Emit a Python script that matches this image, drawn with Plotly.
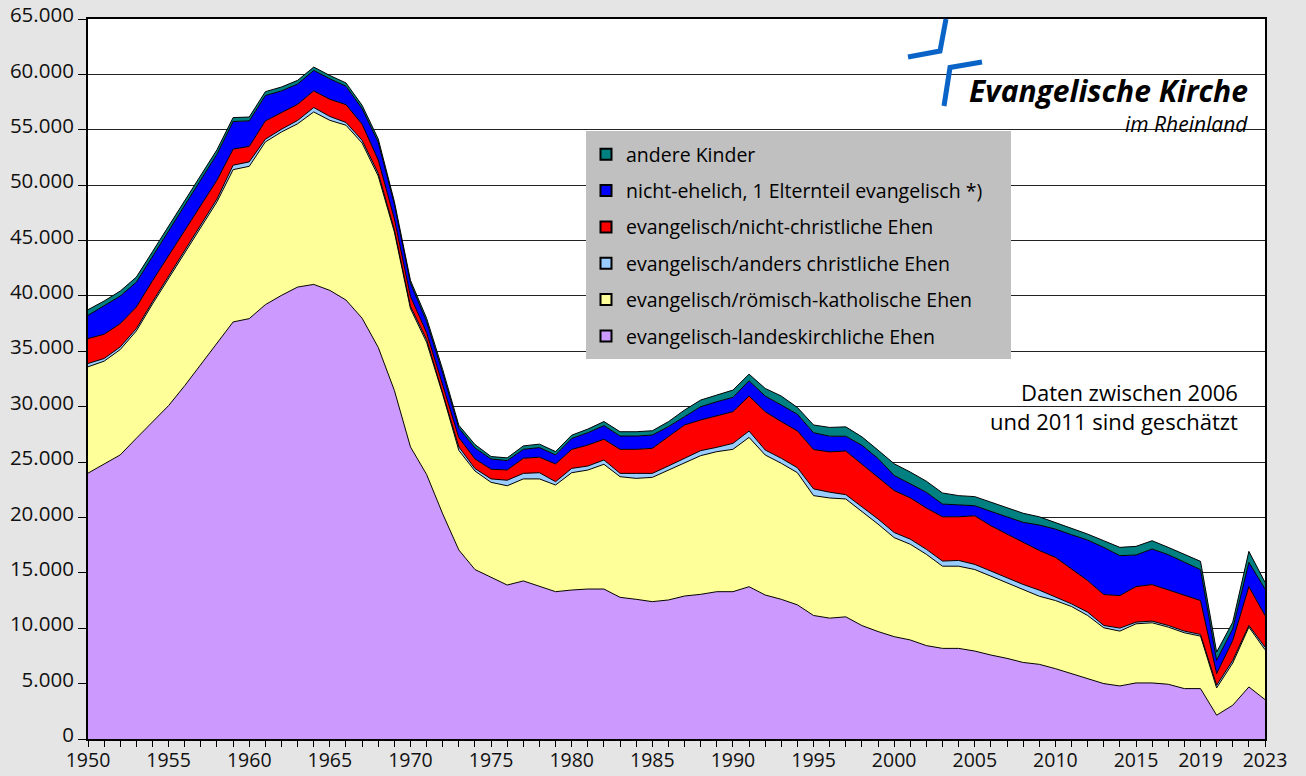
import plotly.graph_objects as go

years = list(range(1950, 2024))

# evangelisch-landeskirchliche Ehen
landeskirchlich = [
    24000, 24840, 25650, 27150, 28600, 30100, 31900, 33800, 35700, 37650,
    37950, 39210, 40050, 40800, 41040, 40500, 39630, 37990, 35355, 31480,
    26365, 23885, 20320, 17065, 15300, 14590, 13900, 14270, 13800, 13300,
    13450, 13540, 13540, 12790, 12610, 12400, 12550, 12910, 13060, 13300,
    13300, 13750, 13000, 12610, 12110, 11150, 10910, 11030, 10240, 9700,
    9240, 8940, 8430, 8180, 8180, 7940, 7580, 7280, 6910, 6740,
    6350, 5900, 5450, 5000, 4790, 5060, 5060, 4940, 4550, 4550,
    2150, 3050, 4700, 3560,
]
# evangelisch/römisch-katholische Ehen
roem_kath = [
    9600, 9270, 9510, 9690, 10670, 11480, 11990, 12450, 12800, 13750,
    13750, 14690, 14750, 14740, 15570, 15350, 15780, 15810, 15465, 14300,
    12485, 11935, 10790, 8990, 8895, 8580, 8960, 9210, 9680, 9630,
    10590, 10740, 11260, 10890, 10920, 11220, 11740, 12040, 12520, 12640,
    12850, 13480, 12640, 12280, 11930, 10820, 10850, 10640, 10300, 9700,
    8940, 8640, 8240, 7420, 7420, 7360, 7120, 6820, 6580, 6150,
    6150, 6060, 5700, 5040, 4950, 5340, 5430, 5160, 5040, 4740,
    2460, 3810, 5400, 4500,
]
# evangelisch/anders christliche Ehen
anders_christl = [
    300, 240, 240, 210, 200, 200, 200, 200, 250, 400,
    400, 250, 250, 300, 400, 350, 250, 250, 250, 200,
    200, 250, 220, 310, 220, 310, 500, 500, 560, 300,
    390, 360, 390, 300, 450, 360, 360, 390, 450, 390,
    540, 570, 450, 450, 450, 610, 520, 390, 430, 460,
    460, 460, 450, 460, 520, 460, 460, 460, 460, 550,
    300, 240, 300, 210, 270, 150, 150, 150, 150, 150,
    240, 240, 150, 240,
]
# evangelisch/nicht-christliche Ehen
nicht_christl = [
    2250, 2190, 2100, 1950, 1900, 1850, 1800, 1750, 1700, 1450,
    1400, 1650, 1500, 1460, 1500, 1550, 1610, 1455, 1200, 1000,
    900, 620, 620, 840, 870, 870, 930, 1360, 1400, 1600,
    1710, 1900, 1870, 2170, 2170, 2260, 2650, 3010, 2770, 2830,
    2860, 3160, 3460, 3310, 3320, 3550, 3640, 3940, 3820, 3730,
    3790, 3730, 3730, 4000, 3940, 4390, 4090, 3940, 3790, 3580,
    3600, 3150, 2850, 2790, 2940, 3210, 3300, 3210, 3210, 3060,
    1050, 1800, 3510, 2850,
]
# nicht-ehelich, 1 Elternteil evangelisch
nicht_ehelich = [
    2100, 2550, 2490, 2250, 2200, 2250, 2300, 2300, 2350, 2500,
    2300, 2290, 1960, 1830, 1850, 1850, 1660, 1405, 1600, 1300,
    1200, 990, 1085, 870, 990, 930, 840, 810, 870, 820,
    990, 1110, 1230, 1200, 1200, 1200, 900, 750, 1200, 1290,
    1290, 1380, 1410, 1500, 1510, 1520, 1420, 1330, 1730, 1730,
    1360, 1270, 1420, 1150, 1060, 910, 1300, 1580, 1820, 2300,
    2550, 3090, 3660, 4260, 3600, 2850, 3210, 3180, 3000, 2790,
    1200, 1050, 2190, 2400,
]
# andere Kinder
andere = [
    510, 450, 450, 450, 430, 420, 410, 400, 400, 350,
    350, 350, 350, 330, 300, 300, 300, 300, 300, 250,
    250, 310, 310, 250, 310, 220, 250, 310, 310, 300,
    300, 330, 370, 390, 390, 390, 450, 600, 600, 600,
    660, 600, 690, 810, 610, 700, 790, 850, 760, 760,
    1060, 1060, 1000, 1000, 850, 820, 820, 790, 820, 740,
    600, 600, 540, 600, 750, 780, 750, 660, 750, 750,
    750, 600, 990, 600,
]

tick_years = [1950, 1955, 1960, 1965, 1970, 1975, 1980, 1985, 1990, 1995,
              2000, 2005, 2010, 2015, 2019, 2023]

series = [
    ("evangelisch-landeskirchliche Ehen", landeskirchlich, "#CC99FF"),
    ("evangelisch/römisch-katholische Ehen", roem_kath, "#FFFF99"),
    ("evangelisch/anders christliche Ehen", anders_christl, "#99CCFF"),
    ("evangelisch/nicht-christliche Ehen", nicht_christl, "#FF0000"),
    ("nicht-ehelich, 1 Elternteil evangelisch *)", nicht_ehelich, "#0000FF"),
    ("andere Kinder", andere, "#008080"),
]

FONT = "Open Sans"

fig = go.Figure()
for name, vals, col in series:
    fig.add_trace(go.Scatter(
        x=years, y=vals, name=name, mode="lines", stackgroup="one",
        line=dict(color="black", width=1), fillcolor=col,
        showlegend=False, hoverinfo="x+y+name",
    ))

# legend entries (square swatches), top entry first
for name, vals, col in reversed(series):
    fig.add_trace(go.Scatter(
        x=[None], y=[None], mode="markers", name=name,
        marker=dict(symbol="square", size=11, color=col,
                    line=dict(color="black", width=2)),
        legendgroup=name, showlegend=True,
    ))

# pixel -> paper helpers (plot area: x 88..1265, y 19..739)
L, R, T, B = 88, 1265, 19, 739
def px(x):
    return (x - L) / (R - L)
def py(y):
    return (B - y) / (B - T)

shapes = [
    # legend box
    dict(type="rect", xref="paper", yref="paper", x0=px(586), x1=px(1011),
         y0=py(359), y1=py(131), fillcolor="#c0c0c0", line=dict(width=0),
         layer="above"),
    # logo cross strokes
    dict(type="path", xref="paper", yref="paper",
         path=f"M {px(946)},{py(19)} L {px(940)},{py(51)} L {px(908)},{py(57)}",
         line=dict(color="#0a64c8", width=5), layer="above"),
    dict(type="path", xref="paper", yref="paper",
         path=f"M {px(982)},{py(62)} L {px(950)},{py(67.5)} L {px(944)},{py(106)}",
         line=dict(color="#0a64c8", width=5), layer="above"),
]

annotations = [
    dict(text="<b><i>Evangelische Kirche</i></b>", xref="paper", yref="paper",
         x=px(1250), y=py(91), xanchor="right", yanchor="middle",
         showarrow=False, font=dict(family=FONT, size=30, color="black")),
    dict(text="<i>im Rheinland</i>", xref="paper", yref="paper",
         x=px(1250), y=py(124), xanchor="right", yanchor="middle",
         showarrow=False, font=dict(family=FONT, size=21, color="black")),
    dict(text="Daten zwischen 2006<br>und 2011 sind geschätzt", xref="paper",
         yref="paper", x=px(1240), y=py(406), xanchor="right", yanchor="middle",
         align="right", showarrow=False,
         font=dict(family=FONT, size=22, color="black")),
]

fig.update_layout(
    width=1306, height=776,
    margin=dict(l=L, r=1306 - R, t=T, b=776 - B, pad=0, autoexpand=False),
    paper_bgcolor="#e5e5e5", plot_bgcolor="white",
    separators=",.",
    font=dict(family=FONT, size=18, color="#111"),
    showlegend=True,
    legend=dict(
        x=px(586), y=py(135), xanchor="left", yanchor="top",
        bgcolor="rgba(0,0,0,0)", borderwidth=0,
        traceorder="grouped", tracegroupgap=8,
        itemwidth=30,
        font=dict(family=FONT, size=19.5, color="black"),
    ),
    xaxis=dict(
        range=[1950, 2023], tickvals=tick_years,
        ticktext=[str(y) for y in tick_years],
        ticks="outside", ticklen=6, tickcolor="black", tickwidth=1,
        minor=dict(ticks="outside", dtick=1, tick0=1950, ticklen=6,
                   tickcolor="black", tickwidth=1, showgrid=False),
        showgrid=False, zeroline=False, automargin=False,
        ticklabelstandoff=-3,
        showline=True, linecolor="black", linewidth=2, mirror=True,
        tickfont=dict(family=FONT, size=19.5, color="#111"),
    ),
    yaxis=dict(
        range=[0, 65000], tick0=0, dtick=5000, tickformat=",d",
        ticks="outside", ticklen=8, tickcolor="black",
        showgrid=True, gridcolor="#222", gridwidth=1,
        zeroline=False, automargin=False, ticklabelshift=-4,
        showline=True, linecolor="black", linewidth=2, mirror=True,
        tickfont=dict(family=FONT, size=20.5, color="#111"),
    ),
    shapes=shapes, annotations=annotations,
)

fig.write_html(
    "out.html",
    config={"displayModeBar": False},
    post_script="document.body.style.margin='0px';document.body.style.overflow='hidden';",
)
